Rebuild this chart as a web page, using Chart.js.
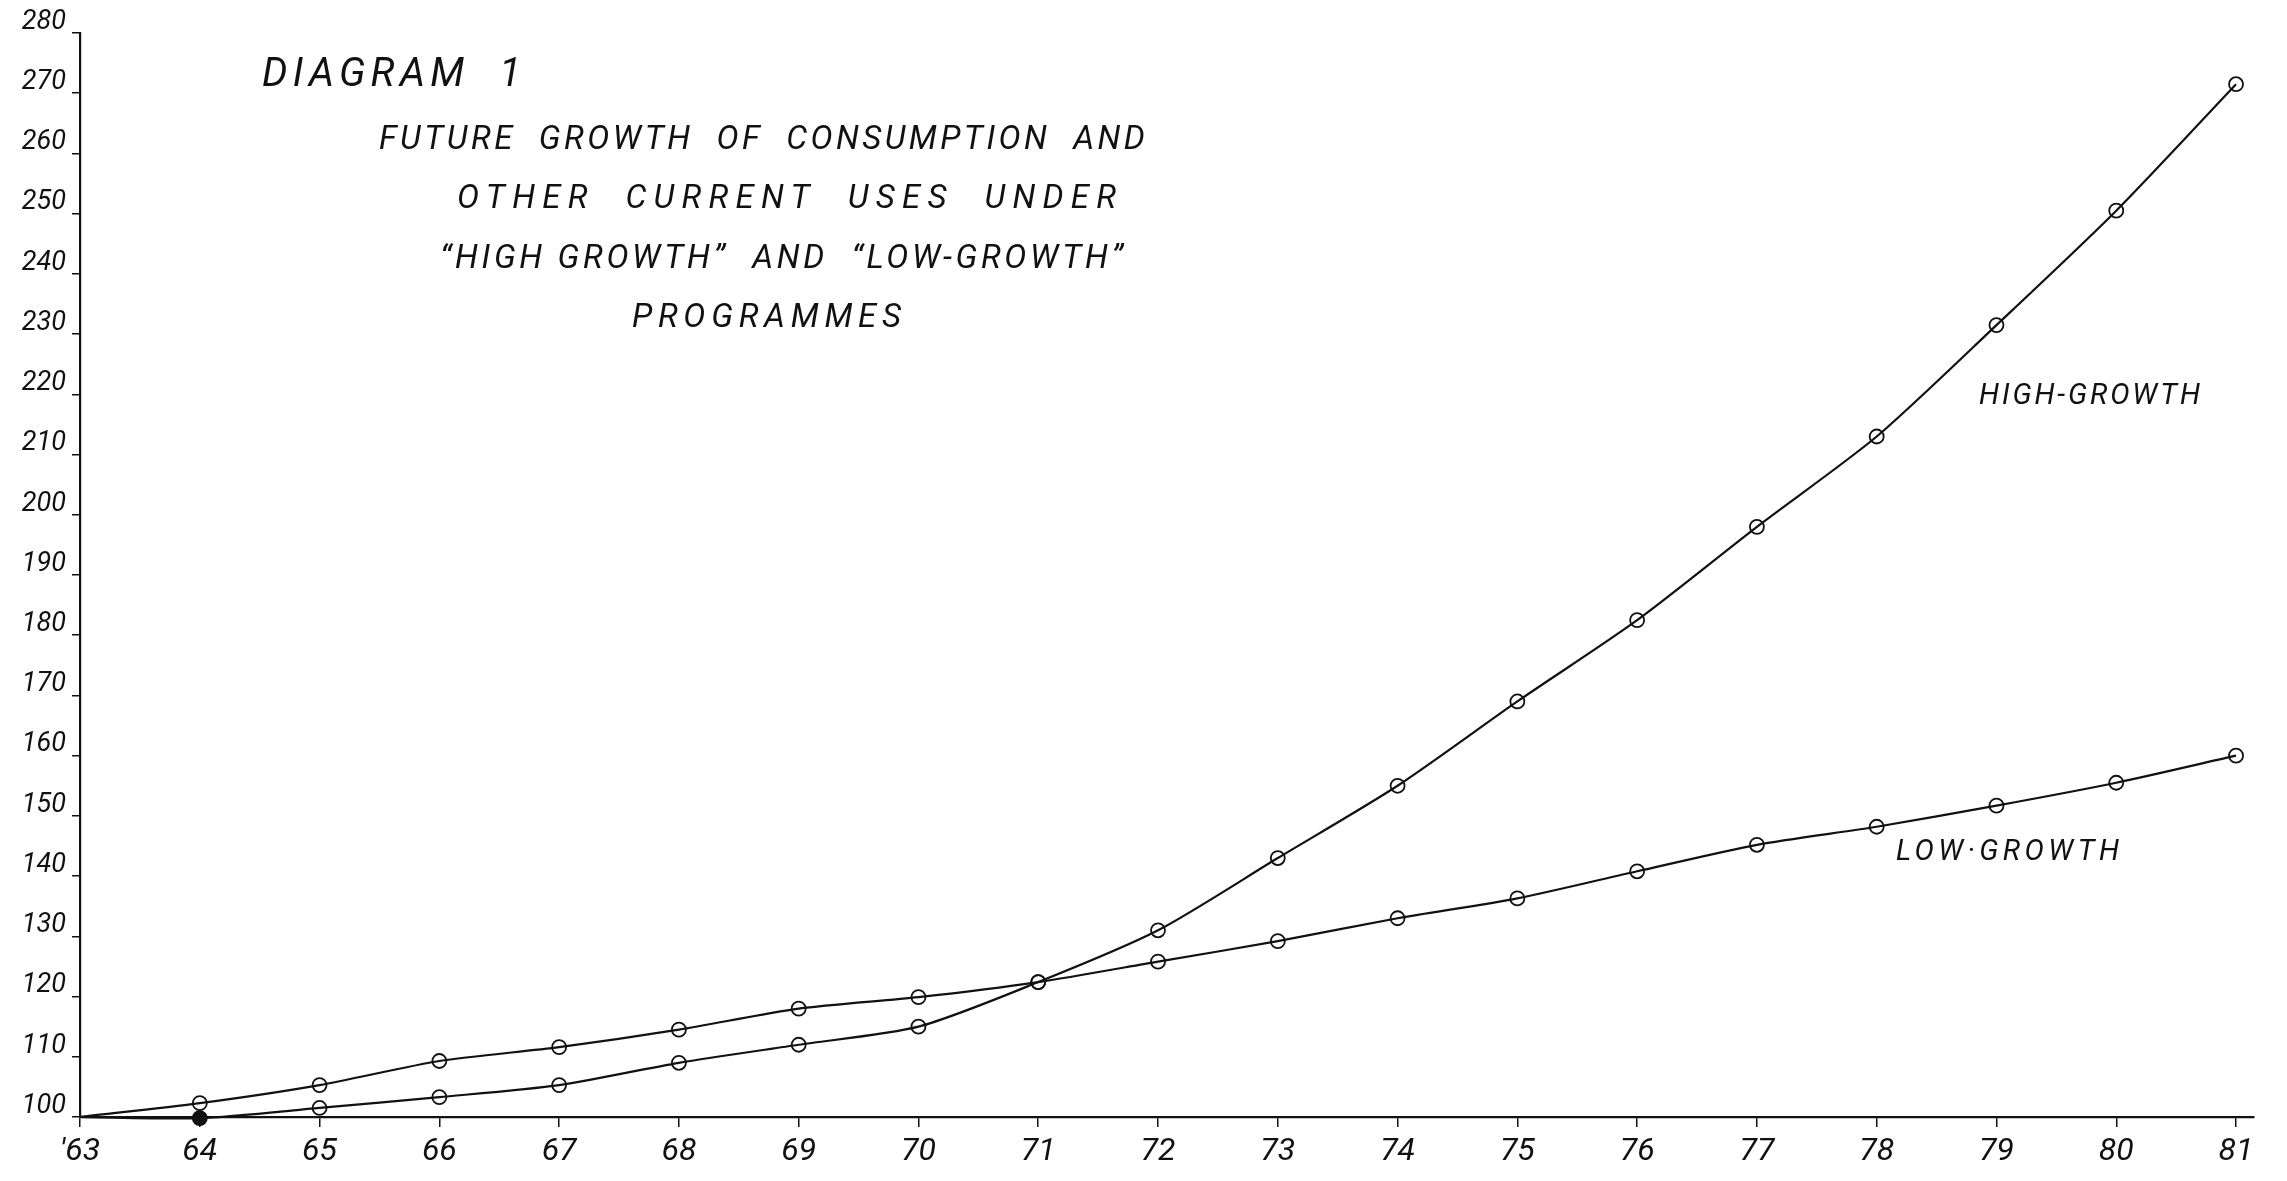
<!DOCTYPE html>
<html>
<head>
<meta charset="utf-8">
<title>Diagram 1</title>
<script src="https://cdn.jsdelivr.net/npm/chart.js@4.4.1/dist/chart.umd.min.js"></script>
<style>
  html, body { margin: 0; padding: 0; background: #fff; }
  #wrap { width: 2287px; height: 1181px; position: relative; }
</style>
</head>
<body>
<div id="wrap"><canvas id="growthChart"></canvas></div>
<script>
// years on the x axis (19xx)
const years = [63, 64, 65, 66, 67, 68, 69, 70, 71, 72, 73, 74, 75, 76, 77, 78, 79, 80, 81];
const xTickLabels = ["'63", "64", "65", "66", "67", "68", "69", "70", "71", "72", "73", "74", "75", "76", "77", "78", "79", "80", "81"];

// index, 1963 = 100
const highGrowth = [100, 99.8, 101.5, 103.3, 105.3, 109, 112, 115, 122.4, 131, 143, 155, 169, 182.5, 198, 213, 231.5, 250.5, 271.5];
const lowGrowth  = [100, 102.3, 105.3, 109.3, 111.6, 114.5, 118, 119.9, 122.4, 125.8, 129.2, 133, 136.3, 140.8, 145.2, 148.2, 151.7, 155.5, 160];

const titleLines = [
  'DIAGRAM  1',
  'FUTURE  GROWTH  OF  CONSUMPTION  AND',
  'OTHER  CURRENT  USES  UNDER',
  '\u201CHIGH GROWTH\u201D  AND  \u201CLOW-GROWTH\u201D',
  'PROGRAMMES'
];
const seriesNames = ['HIGH-GROWTH', 'LOW\u00B7GROWTH'];

const handFont = "'Roboto', 'DejaVu Sans', sans-serif";

// free text drawn on the canvas, stretched to the width it has on the sheet
const textPlugin = {
  id: 'handText',
  afterDatasetsDraw(chart, args, opts) {
    const ctx = chart.ctx;
    ctx.save();
    ctx.fillStyle = '#111';
    ctx.textBaseline = 'middle';
    ctx.textAlign = 'left';
    opts.items.forEach(item => {
      ctx.font = `italic 400 ${item.size}px ${handFont}`;
      if ('letterSpacing' in ctx) ctx.letterSpacing = '0px';
      const w = ctx.measureText(item.text).width;
      const n = item.text.length;
      if ('letterSpacing' in ctx && n > 1) {
        ctx.letterSpacing = Math.max(0, (item.right - item.left - w) / (n - 1)).toFixed(2) + 'px';
      }
      ctx.fillText(item.text, item.left, item.y);
    });
    ctx.restore();
  }
};

const lineStyle = {
  borderColor: '#111',
  borderWidth: 2.2,
  tension: 0.25,
  clip: false,
  pointStyle: 'circle',
  pointRadius: (c) => c.dataIndex === 0 ? 0 : 7,
  pointBorderColor: '#111',
  pointBorderWidth: 1.8,
  pointBackgroundColor: 'rgba(255,255,255,0)',
  fill: false
};

new Chart(document.getElementById('growthChart'), {
  type: 'line',
  data: {
    datasets: [
      {
        label: seriesNames[0],
        data: years.map((yr, i) => ({ x: yr, y: highGrowth[i] })),
        ...lineStyle,
        pointBackgroundColor: (c) => c.dataIndex === 1 ? '#111' : 'rgba(255,255,255,0)'
      },
      { label: seriesNames[1], data: years.map((yr, i) => ({ x: yr, y: lowGrowth[i] })), ...lineStyle }
    ]
  },
  options: {
    responsive: true,
    maintainAspectRatio: false,
    animation: false,
    layout: { padding: { top: 33, right: 33, left: 0, bottom: 0 } },
    plugins: {
      legend: { display: false },
      tooltip: { enabled: false },
      handText: {
        items: [
          { text: titleLines[0], left: 262, right: 521, y: 76, size: 40 },
          { text: titleLines[1], left: 379, right: 1145, y: 141, size: 33 },
          { text: titleLines[2], left: 457, right: 1116, y: 200, size: 33 },
          { text: titleLines[3], left: 440, right: 1123, y: 260, size: 33 },
          { text: titleLines[4], left: 632, right: 901, y: 319, size: 33 },
          { text: seriesNames[0], left: 1979, right: 2200, y: 397, size: 29 },
          { text: seriesNames[1], left: 1896, right: 2119, y: 853, size: 29 }
        ]
      }
    },
    scales: {
      x: {
        type: 'linear',
        min: 63,
        max: 81.15,
        afterFit: (s) => { s.height = 64; },
        border: { color: '#111', width: 2.2 },
        grid: { drawOnChartArea: false, drawTicks: true, tickLength: 10, color: '#111', lineWidth: 1.5 },
        ticks: {
          stepSize: 1,
          includeBounds: false,
          autoSkip: false,
          maxRotation: 0,
          padding: 6,
          color: '#111',
          font: { family: handFont, size: 32, style: 'italic', weight: 400 },
          callback: (v) => {
            const i = Math.round(v) - years[0];
            return Number.isInteger(v) && xTickLabels[i] !== undefined ? xTickLabels[i] : '';
          }
        }
      },
      y: {
        min: 100,
        max: 280,
        afterFit: (s) => { s.width = 80; },
        border: { color: '#111', width: 2.2 },
        grid: { drawOnChartArea: false, drawTicks: true, tickLength: 8, color: '#111', lineWidth: 1.5 },
        ticks: {
          stepSize: 10,
          padding: 6,
          labelOffset: -11,
          color: '#111',
          font: { family: handFont, size: 27, style: 'italic', weight: 400 }
        }
      }
    }
  },
  plugins: [textPlugin]
});
</script>
</body>
</html>
